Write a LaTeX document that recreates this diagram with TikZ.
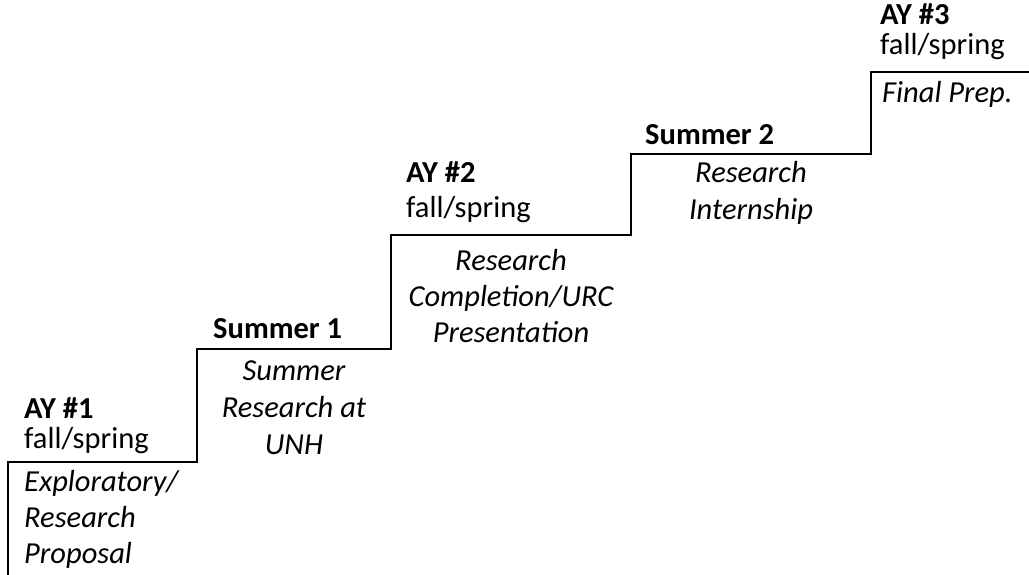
\documentclass[tikz,border=0pt]{standalone}
\usepackage{fontspec}
\setmainfont{Carlito}
\begin{document}
\begin{tikzpicture}[x=1pt,y=-1pt,
  txt/.style={inner sep=0pt,font=\fontsize{30.5}{36}\selectfont},
  lefttxt/.style={txt,anchor=base west},
  boldtxt/.style={lefttxt,font=\fontsize{30.5}{36}\selectfont\bfseries},
  itltxt/.style={lefttxt,font=\fontsize{30.5}{36}\selectfont\itshape},
  midtxt/.style={txt,anchor=base,font=\fontsize{30.5}{36}\selectfont\itshape},
  stair/.style={line width=2.4pt,line join=miter}]
\useasboundingbox (0,0) rectangle (1029,575);
% staircase corners
\coordinate (s0) at (8,577);
\coordinate (s1) at (8,462);
\coordinate (s2) at (197,462);
\coordinate (s3) at (197,349);
\coordinate (s4) at (391,349);
\coordinate (s5) at (391,235);
\coordinate (s6) at (631,235);
\coordinate (s7) at (631,154);
\coordinate (s8) at (871,154);
\coordinate (s9) at (871,72);
\coordinate (s10) at (1031,72);
\draw[stair] (s0) -- (s1) -- (s2) -- (s3) -- (s4) -- (s5) -- (s6) -- (s7) -- (s8) -- (s9) -- (s10);
% step 1
\node[boldtxt] (ay1) at (24,418) {AY \#1};
\node[lefttxt] (fs1) at (24,448) {fall/spring};
\node[itltxt] (e1) at (24,491) {Exploratory/};
\node[itltxt] (e2) at (24,527) {Research};
\node[itltxt] (e3) at (24,563) {Proposal};
% step 2
\node[boldtxt] (su1) at (213,338) {Summer 1};
\node[midtxt] (u1) at (294,380) {Summer};
\node[midtxt] (u2) at (294,417) {Research at};
\node[midtxt] (u3) at (294,454) {UNH};
% step 3
\node[boldtxt] (ay2) at (406,183) {AY \#2};
\node[lefttxt] (fs2) at (406,218) {fall/spring};
\node[midtxt] (r1) at (511,270) {Research};
\node[midtxt] (r2) at (511,306) {Completion/URC};
\node[midtxt] (r3) at (511,342) {Presentation};
% step 4
\node[boldtxt] (su2) at (645,145) {Summer 2};
\node[midtxt] (i1) at (751,183) {Research};
\node[midtxt] (i2) at (751,220) {Internship};
% step 5
\node[boldtxt] (ay3) at (880,25) {AY \#3};
\node[lefttxt] (fs3) at (880,55) {fall/spring};
\node[itltxt] (fp) at (882,103) {Final Prep.};
\end{tikzpicture}
\end{document}
